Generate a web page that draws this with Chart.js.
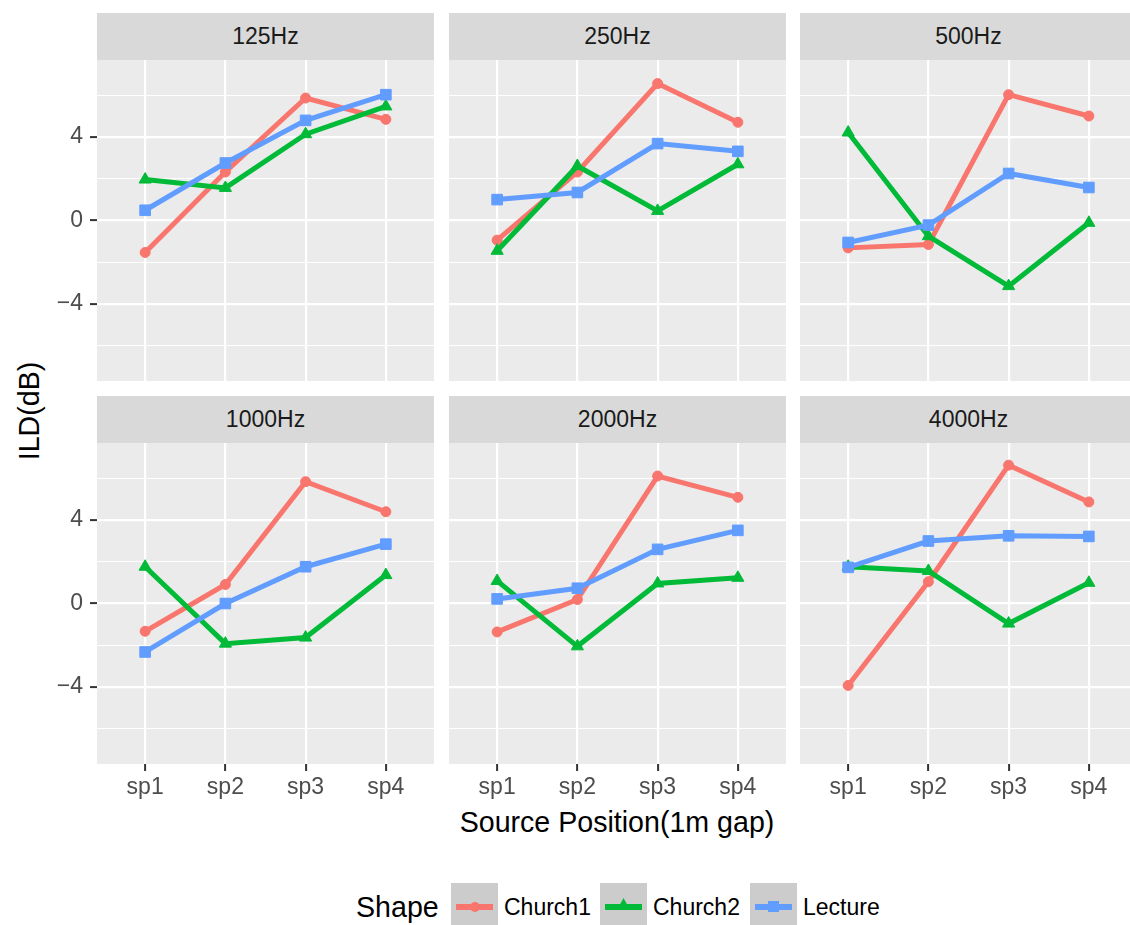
<!DOCTYPE html>
<html>
<head>
<meta charset="utf-8">
<script src="https://cdn.jsdelivr.net/npm/chart.js@4.4.1/dist/chart.umd.min.js"></script>
<style>
  body { margin: 0; background: #fff; font-family: "Liberation Sans", Arial, sans-serif; }
  #wrap { position: relative; width: 1130px; height: 925px; overflow: hidden; background: #fff; }
  #wrap canvas { position: absolute; }
  .strip { position: absolute; width: 337px; height: 47px; line-height: 47px; background: #d9d9d9;
           color: #1a1a1a; font-size: 23px; text-align: center; }
  .title { position: absolute; color: #000; font-size: 28.6px; white-space: nowrap; }
  .key { position: absolute; top: 883px; width: 47px; height: 47px; background: #cccccc; }
  .key .ln { position: absolute; left: 5px; right: 5px; top: 20.5px; height: 6px; }
  .key .mk { position: absolute; }
  .lab { position: absolute; top: 892px; line-height: 30px; font-size: 23px; color: #000; white-space: nowrap; }
</style>
</head>
<body>
<div id="wrap">
  <div class="title" style="left:28.5px;top:411px;transform:translate(-50%,-50%) rotate(-90deg);">ILD(dB)</div>
  <div class="title" style="left:617px;top:822px;transform:translate(-50%,-50%);">Source Position(1m gap)</div>
  <div class="title" style="left:356px;top:907px;transform:translateY(-50%);">Shape</div>
</div>
<script>
// values
const positions = ["sp1", "sp2", "sp3", "sp4"];
const bands = ["125Hz", "250Hz", "500Hz", "1000Hz", "2000Hz", "4000Hz"];
const church1 = [
  [-1.53, 2.32, 5.86, 4.84],
  [-0.94, 2.32, 6.55, 4.70],
  [-1.31, -1.15, 6.02, 5.00],
  [-1.33, 0.91, 5.83, 4.39],
  [-1.36, 0.19, 6.10, 5.08],
  [-3.92, 1.04, 6.62, 4.86]
];
const church2 = [
  [1.96, 1.56, 4.13, 5.46],
  [-1.45, 2.61, 0.46, 2.69],
  [4.21, -0.75, -3.14, -0.11],
  [1.76, -1.92, -1.63, 1.36],
  [1.08, -2.05, 0.96, 1.23],
  [1.76, 1.56, -0.96, 0.99]
];
const lecture = [
  [0.49, 2.75, 4.79, 6.02],
  [1.00, 1.34, 3.68, 3.31],
  [-1.05, -0.22, 2.25, 1.58],
  [-2.32, 0.00, 1.76, 2.84],
  [0.22, 0.73, 2.59, 3.50],
  [1.73, 2.99, 3.24, 3.21]
];
const yTicks = [-6, -4, -2, 0, 2, 4, 6];
const yTickLabels = ["", "\u22124", "", "0", "", "4", ""];

const series = [
  { name: "Church1", values: church1, color: "#F8766D", shape: "circle", radius: 5, order: 3 },
  { name: "Church2", values: church2, color: "#00BA38", shape: "triangle", radius: 7, order: 2 },
  { name: "Lecture", values: lecture, color: "#619CFF", shape: "rect", radius: 7.5, order: 1 }
];

const colX = [97, 449, 800];
const rowStrip = [13, 396];
const rowTop = [60, 443];
const plotW = 337, plotH = 321;
const leftAxisW = 97, bottomAxisH = 45;

const wrap = document.getElementById("wrap");

const panelBg = {
  id: "panelBg",
  beforeDraw(chart) {
    const a = chart.chartArea;
    chart.ctx.save();
    chart.ctx.fillStyle = "#ebebeb";
    chart.ctx.fillRect(a.left, a.top, a.right - a.left, a.bottom - a.top);
    chart.ctx.restore();
  }
};

function noPad(axis) {
  axis.paddingTop = 0;
  axis.paddingBottom = 0;
  axis.paddingLeft = 0;
  axis.paddingRight = 0;
}

bands.forEach((band, i) => {
  const r = Math.floor(i / 3), c = i % 3;
  const isLeft = c === 0, isBottom = r === 1;

  const strip = document.createElement("div");
  strip.className = "strip";
  strip.style.left = colX[c] + "px";
  strip.style.top = rowStrip[r] + "px";
  strip.textContent = band;
  wrap.appendChild(strip);

  const cv = document.createElement("canvas");
  const w = plotW + (isLeft ? leftAxisW : 0);
  const h = plotH + (isBottom ? bottomAxisH : 0);
  cv.width = w; cv.height = h;
  cv.style.width = w + "px"; cv.style.height = h + "px";
  cv.style.left = (isLeft ? colX[c] - leftAxisW : colX[c]) + "px";
  cv.style.top = rowTop[r] + "px";
  wrap.appendChild(cv);

  new Chart(cv.getContext("2d"), {
    type: "line",
    data: {
      datasets: series.map(s => ({
        label: s.name,
        data: s.values[i].map((v, k) => ({ x: k + 1, y: v })),
        borderColor: s.color,
        backgroundColor: s.color,
        borderWidth: 5,
        pointStyle: s.shape,
        pointRadius: s.radius,
        pointBorderWidth: 1,
        pointBackgroundColor: s.color,
        pointBorderColor: s.color,
        tension: 0,
        order: s.order
      }))
    },
    options: {
      responsive: false,
      animation: false,
      events: [],
      layout: { padding: 0, autoPadding: false },
      plugins: { legend: { display: false }, tooltip: { enabled: false } },
      scales: {
        x: {
          type: "linear",
          min: 0.4,
          max: 4.6,
          afterBuildTicks: axis => { axis.ticks = positions.map((p, k) => ({ value: k + 1 })); },
          afterFit: axis => { axis.height = isBottom ? bottomAxisH : 0; noPad(axis); },
          border: { display: false },
          grid: { color: "#ffffff", lineWidth: 2.2, drawTicks: isBottom, tickLength: 7, tickWidth: 2, tickColor: "#333333" },
          ticks: {
            display: isBottom,
            padding: 3,
            color: "#4d4d4d",
            font: { family: "'Liberation Sans', Arial, sans-serif", size: 23 },
            maxRotation: 0,
            autoSkip: false,
            callback: v => positions[Math.round(v) - 1]
          }
        },
        y: {
          type: "linear",
          min: -7.68,
          max: 7.68,
          afterBuildTicks: axis => { axis.ticks = yTicks.map(v => ({ value: v })); },
          afterFit: axis => { axis.width = isLeft ? leftAxisW : 0; noPad(axis); },
          border: { display: false },
          grid: {
            color: "#ffffff",
            lineWidth: ctx => (ctx.tick && ctx.tick.value % 4 === 0 ? 2.2 : 1.1),
            drawTicks: isLeft,
            tickLength: 7,
            tickWidth: 2,
            tickColor: ctx => (ctx.tick && ctx.tick.value % 4 === 0 ? "#333333" : "rgba(0,0,0,0)")
          },
          ticks: {
            display: isLeft,
            padding: 7,
            color: "#4d4d4d",
            font: { family: "'Liberation Sans', Arial, sans-serif", size: 23 },
            autoSkip: false,
            callback: v => yTickLabels[yTicks.indexOf(v)]
          }
        }
      }
    },
    plugins: [panelBg]
  });
});

// legend
const keyX = [451, 600, 750];
const labX = [504, 653, 803];
series.forEach((s, k) => {
  const key = document.createElement("div");
  key.className = "key";
  key.style.left = keyX[k] + "px";
  const ln = document.createElement("div");
  ln.className = "ln";
  ln.style.background = s.color;
  key.appendChild(ln);
  const mk = document.createElement("div");
  mk.className = "mk";
  mk.style.background = s.color;
  if (s.shape === "circle") {
    mk.style.cssText += "width:10px;height:10px;left:18.5px;top:18.5px;border-radius:50%;";
  } else if (s.shape === "triangle") {
    mk.style.cssText += "width:12px;height:11px;left:17.5px;top:15px;clip-path:polygon(50% 0,100% 100%,0 100%);";
  } else {
    mk.style.cssText += "width:11px;height:11px;left:18px;top:18px;";
  }
  key.appendChild(mk);
  wrap.appendChild(key);

  const lab = document.createElement("div");
  lab.className = "lab";
  lab.style.left = labX[k] + "px";
  lab.textContent = s.name;
  wrap.appendChild(lab);
});
</script>
</body>
</html>
